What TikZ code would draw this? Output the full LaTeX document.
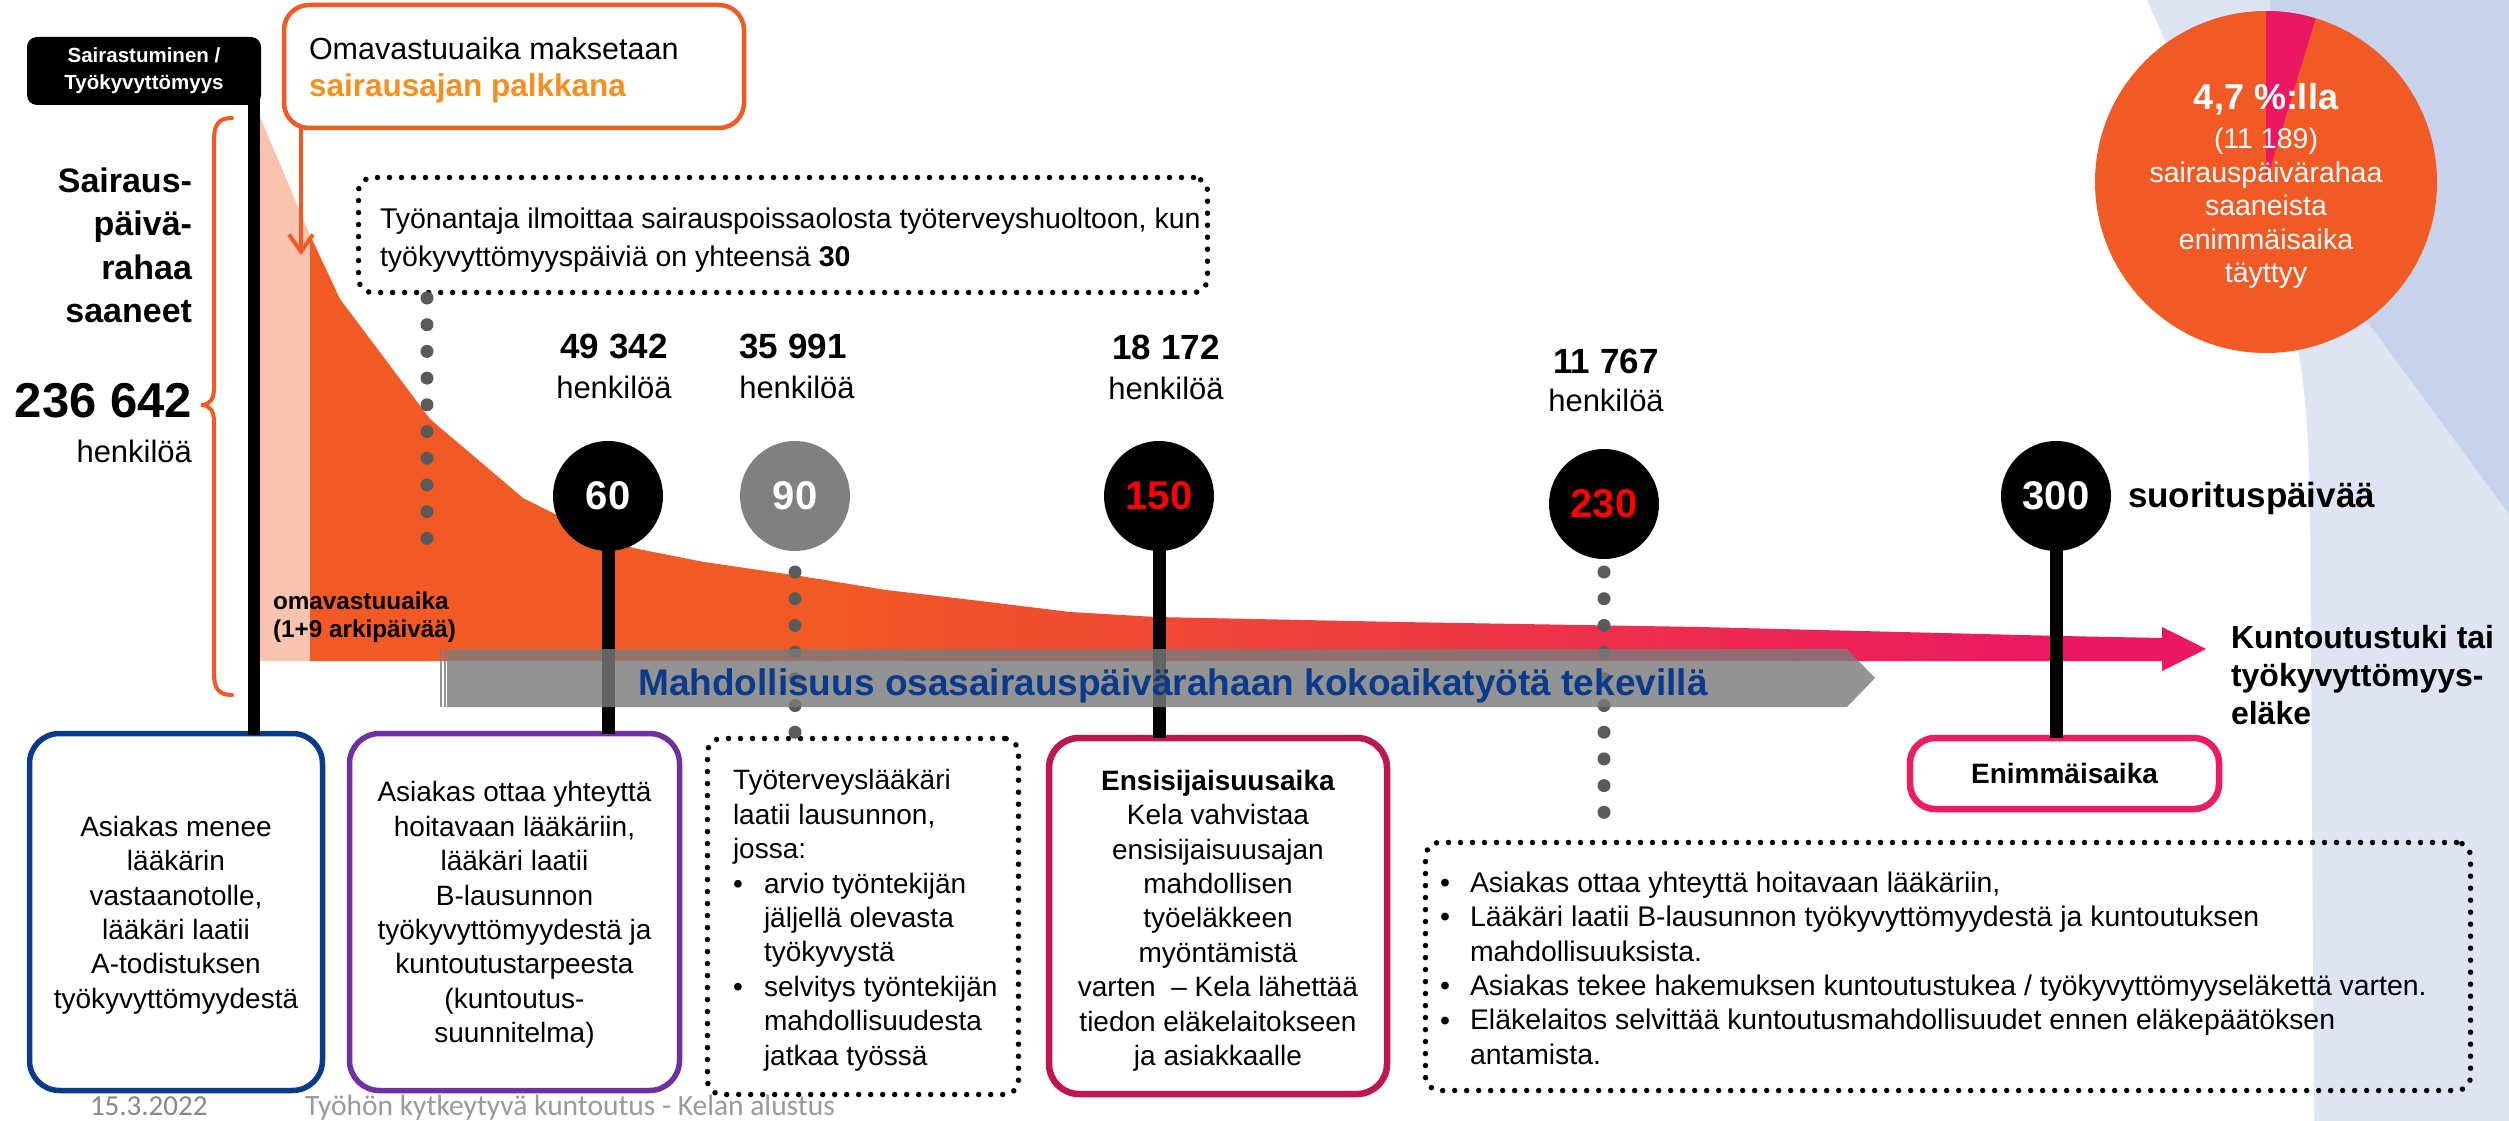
\documentclass[tikz,border=0pt]{standalone}
\usepackage{fontspec}
\setmainfont{Liberation Sans}
\newfontfamily\footfont{Carlito}
\usetikzlibrary{arrows.meta}
\definecolor{orng}{HTML}{F15A24}
\definecolor{pnk}{HTML}{EC1763}
\definecolor{salm}{HTML}{F8C3AF}
\definecolor{ltblue}{HTML}{DFE4F3}
\definecolor{dkblue}{HTML}{C8D2EB}
\definecolor{navy}{HTML}{0A3A8A}
\definecolor{purp}{HTML}{7030A0}
\definecolor{crim}{HTML}{BE1650}
\definecolor{enim}{HTML}{EC1C64}
\definecolor{dotg}{HTML}{5A5A5A}
\definecolor{circg}{HTML}{808080}
\definecolor{bandg}{HTML}{7B7B7B}
\definecolor{ytxt}{HTML}{F39020}
\definecolor{footg}{HTML}{888888}
\definecolor{footg2}{HTML}{9A9A9A}
\newcommand{\fsz}[2]{\fontsize{#1}{#2}\selectfont}
\begin{document}
\begin{tikzpicture}[x=1pt,y=-1pt,
  every node/.style={inner sep=0pt,outer sep=0pt},
  dotbox/.style={line width=5.5pt, line cap=round, dash pattern=on 0pt off 12pt, rounded corners=14pt},
  grayline/.style={dotg, line width=13pt, line cap=round, dash pattern=on 0pt off 26.7pt},
  stem/.style={line width=13pt},
  mile/.style={circle, minimum size=110pt, font=\fsz{40}{40}\bfseries},
  solidbox/.style={line width=5.5pt, rounded corners=30pt},
  btxt/.style={font=\fsz{28}{34.4}, align=center},
  ltxt/.style={font=\fsz{28}{34.4}, align=left},
  lbtxt/.style={font=\fsz{28.4}{34.4}, align=left},
  cnt/.style={anchor=base, font=\fsz{35}{40}\bfseries},
  hk/.style={anchor=base, font=\fsz{31}{36}},
  lefttxt/.style={anchor=base east, font=\fsz{34}{43}\bfseries},
  bul/.style={anchor=base, font=\fsz{28}{34.4}},
  bulb/.style={anchor=base, font=\fsz{28.4}{34.4}},
]
\useasboundingbox (0,0) rectangle (2509,1121);
\fill[white] (0,0) rectangle (2509,1121);

% background
\fill[ltblue] (2147,0) -- (2290,320) .. controls (2303,355) and (2308,420) .. (2310,500) -- (2314,1121) -- (2509,1121) -- (2509,0) -- cycle;
\fill[dkblue] (2270,0) -- (2509,0) -- (2509,514) -- (2367,321) -- (2300,230) -- (2275,100) -- cycle;

% pie
\fill[orng] (2266,182) circle[radius=171pt];
\fill[pnk] (2266,182) -- ++(90:171pt) arc[start angle=90, end angle=73.1, radius=171pt] -- cycle;
\node[anchor=base, text=white, font=\fsz{36}{40}\bfseries] (pie1) at (2266,110) {4,7 \%:lla};
\node[text=white, font=\fsz{28.5}{33.5}, align=center] (pie2) at (2266,208.5) {(11 189)\\sairauspäivärahaa\\saaneista\\enimmäisaika\\täyttyy};

% area
\fill[salm] (260,117) -- (310,235) -- (310,661) -- (260,661) -- cycle;
\begin{scope}
\clip (310,235) -- (340,299) -- (430,419) -- (523,498) -- (557,515) -- (633,548) -- (704,562) -- (800,576) -- (886,590) -- (972,600) -- (1070,612) -- (1156,617) -- (1400,622) -- (1700,627) -- (2061,636) -- (2162,638) -- (2162,627) -- (2206,649) -- (2162,671) -- (2162,661) -- (310,661) -- cycle;
\fill[orng] (300,200) rectangle (830,700);
\shade[left color=orng, right color=pnk] (820,200) rectangle (2060,700);
\fill[pnk] (2055,200) rectangle (2220,700);
\end{scope}

% brace
\draw[orng, line width=4pt, line cap=round] (232,118) .. controls (219,118) and (214,124) .. (214,140) -- (214,388) .. controls (214,399) and (210,405) .. (201,405) .. controls (210,405) and (214,411) .. (214,422) -- (214,673) .. controls (214,689) and (219,695) .. (232,695);

% left texts
\node[lefttxt] (s1) at (192,192) {Sairaus-};
\node[lefttxt] (s2) at (192,235.5) {päivä-};
\node[lefttxt] (s3) at (192,279) {rahaa};
\node[lefttxt] (s4) at (192,322.5) {saaneet};
\node[anchor=base east, font=\fsz{49}{50}\bfseries] (tot) at (192,417) {236 642};
\node[anchor=base east, font=\fsz{31}{36}] (toth) at (192,462) {henkilöä};

% bottom boxes
\node[draw=navy, solidbox, minimum width=293pt, minimum height=357pt] (b1) at (176,912) {};
\node[draw=purp, solidbox, minimum width=330pt, minimum height=357pt] (b2) at (514.5,912) {};
\node[draw, dotbox, minimum width=311pt, minimum height=356pt] (b3) at (863,916.5) {};
\node[draw=crim, line width=6.5pt, rounded corners=30pt, minimum width=338pt, minimum height=356pt] (b4) at (1218,916) {};
\node[draw=enim, line width=6.5pt, rounded corners=25pt, minimum width=309pt, minimum height=71pt] (b5) at (2064.5,773.5) {};
\node[draw, dotbox, minimum width=1045pt, minimum height=248pt] (b6) at (1948,966.5) {};

% black line and label
\coordinate (l0) at (254,95);
\coordinate (l1) at (254,735);
\draw[line width=12pt] (l0) -- (l1);
\node[fill=black, rounded corners=10pt, minimum width=234pt, minimum height=68pt, text=white, font=\fsz{20.5}{27}\bfseries, align=center] (lbl) at (144,71) {Sairastuminen /\\Työkyvyttömyys};

% omavastuu box
\node[draw=orng, line width=4.5pt, rounded corners=25pt, minimum width=460pt, minimum height=123pt] (omab) at (514,66.5) {};
\node[anchor=base west, font=\fsz{30.5}{36}] (oma1) at (309,60) {Omavastuuaika maksetaan};
\node[anchor=base west, font=\fsz{31.5}{36}\bfseries, text=ytxt] (oma2) at (309,97) {sairausajan palkkana};
\coordinate (arrtip) at (301,255);
\draw[orng, line width=4pt, -{Straight Barb[length=17pt,width=24pt]}] (omab.south -| arrtip) -- (arrtip);

% dotted box 1
\node[draw, dotbox, minimum width=849pt, minimum height=115pt] (tyon) at (783,235) {};
\node[anchor=base west, font=\fsz{28.5}{34}] (ty1) at (380,228) {Työnantaja ilmoittaa sairauspoissaolosta työterveyshuoltoon, kun};
\node[anchor=base west, font=\fsz{28.5}{34}] (ty2) at (380,266) {työkyvyttömyyspäiviä on yhteensä \textbf{30}};
\coordinate (g1) at (427,298);
\coordinate (g2) at (427,540);
\draw[grayline] (g1) -- (g2);

% milestone positions
\coordinate (p60) at (608,496);
\coordinate (p90) at (795,496);
\coordinate (p150) at (1159,496);
\coordinate (p230) at (1604,504);
\coordinate (p300) at (2056,496);
\coordinate (q90) at (795,572);
\coordinate (q230a) at (1604,572);
\coordinate (q230b) at (1604,816);

% stems and dotted lines
\draw[stem] (p60) -- (p60 |- b2.north);
\draw[stem] (p150) -- (p150 |- b4.north);
\draw[stem] (p300) -- (p300 |- b5.north);
\draw[grayline] (q90) -- (q90 |- b3.north);
\draw[grayline] (q230a) -- (q230b);

% circles
\node[mile, fill=black, text=white] (c60) at (p60) {60};
\node[mile, fill=circg, text=white] (c90) at (p90) {90};
\node[mile, fill=black, text=red] (c150) at (p150) {150};
\node[mile, fill=black, text=red] (c230) at (p230) {230};
\node[mile, fill=black, text=white] (c300) at (p300) {300};

% counts
\node[cnt] (n1) at (614,358) {49 342};
\node[hk] (h1) at (614,398) {henkilöä};
\node[cnt] (n2) at (793,358) {35 991};
\node[hk] (h2) at (797,398) {henkilöä};
\node[cnt] (n3) at (1166,359) {18 172};
\node[hk] (h3) at (1166,399) {henkilöä};
\node[cnt] (n4) at (1606,373) {11 767};
\node[hk] (h4) at (1606,411) {henkilöä};
\node[anchor=base west, font=\fsz{35}{40}\bfseries] (suor) at (2128,507) {suorituspäivää};

% band
\fill[bandg, opacity=0.81] (447,649) -- (1847,649) -- (1875,678) -- (1847,707) -- (447,707) -- cycle;
\fill[bandg, opacity=0.81] (440,649) rectangle (442,707);
\fill[bandg, opacity=0.81] (443.8,649) rectangle (445.6,707);
\node[anchor=base, font=\fsz{37}{40}\bfseries, text=navy] (bandtxt) at (1173,695) {Mahdollisuus osasairauspäivärahaan kokoaikatyötä tekevillä};

% omavastuuaika label
\node[anchor=base west, font=\fsz{24.3}{28}\bfseries] (om1) at (273,609) {omavastuuaika};
\node[anchor=base west, font=\fsz{24.3}{28}\bfseries] (om2) at (273,637) {(1+9 arkipäivää)};

% end label
\node[anchor=base west, font=\fsz{32}{38}\bfseries] (ku1) at (2231,648) {Kuntoutustuki tai};
\node[anchor=base west, font=\fsz{32}{38}\bfseries] (ku2) at (2231,686) {työkyvyttömyys-};
\node[anchor=base west, font=\fsz{32}{38}\bfseries] (ku3) at (2231,724) {eläke};

% box texts
\node[btxt] (t1) at (176,915) {Asiakas menee\\lääkärin\\vastaanotolle,\\lääkäri laatii\\A-todistuksen\\työkyvyttömyydestä};
\node[btxt] (t2) at (514.5,915) {Asiakas ottaa yhteyttä\\hoitavaan lääkäriin,\\lääkäri laatii\\B-lausunnon\\työkyvyttömyydestä ja\\kuntoutustarpeesta\\(kuntoutus-\\suunnitelma)};
\node[ltxt, anchor=west] (t3a) at (733,817) {Työterveyslääkäri\\laatii lausunnon,\\jossa:};
\node[bul] (bu1) at (738,893.2) {•};
\node[ltxt, anchor=west] (t3b) at (764,920.2) {arvio työntekijän\\jäljellä olevasta\\työkyvystä};
\node[bul] (bu2) at (738,996.4) {•};
\node[ltxt, anchor=west] (t3c) at (764,1023.4) {selvitys työntekijän\\mahdollisuudesta\\jatkaa työssä};
\node[btxt] (t4) at (1218,920.6) {\textbf{Ensisijaisuusaika}\\Kela vahvistaa\\ensisijaisuusajan\\mahdollisen\\työeläkkeen\\myöntämistä\\varten~ – Kela lähettää\\tiedon eläkelaitokseen\\ja asiakkaalle};
\node[anchor=base, font=\fsz{28}{34}\bfseries] (t5) at (2064.5,783) {Enimmäisaika};

\node[bulb] (bb1) at (1445,892.5) {•};
\node[anchor=base west, font=\fsz{28.4}{34.4}] (u1) at (1470,892.5) {Asiakas ottaa yhteyttä hoitavaan lääkäriin,};
\node[bulb] (bb2) at (1445,926.9) {•};
\node[lbtxt, anchor=west] (u2) at (1470,933.7) {Lääkäri laatii B-lausunnon työkyvyttömyydestä ja kuntoutuksen\\mahdollisuuksista.};
\node[bulb] (bb3) at (1445,995.7) {•};
\node[anchor=base west, font=\fsz{28.4}{34.4}] (u3) at (1470,995.7) {Asiakas tekee hakemuksen kuntoutustukea / työkyvyttömyyseläkettä varten.};
\node[bulb] (bb4) at (1445,1030.1) {•};
\node[lbtxt, anchor=west] (u4) at (1470,1036.9) {Eläkelaitos selvittää kuntoutusmahdollisuudet ennen eläkepäätöksen\\antamista.};

% footer
\node[anchor=base west, font=\footfont\fsz{29}{32}, text=footg] (date) at (90,1115) {15.3.2022};
\node[anchor=base west, font=\footfont\fsz{29.5}{32}, text=footg2] (foot) at (305,1115) {Työhön kytkeytyvä kuntoutus - Kelan alustus};
\end{tikzpicture}
\end{document}
